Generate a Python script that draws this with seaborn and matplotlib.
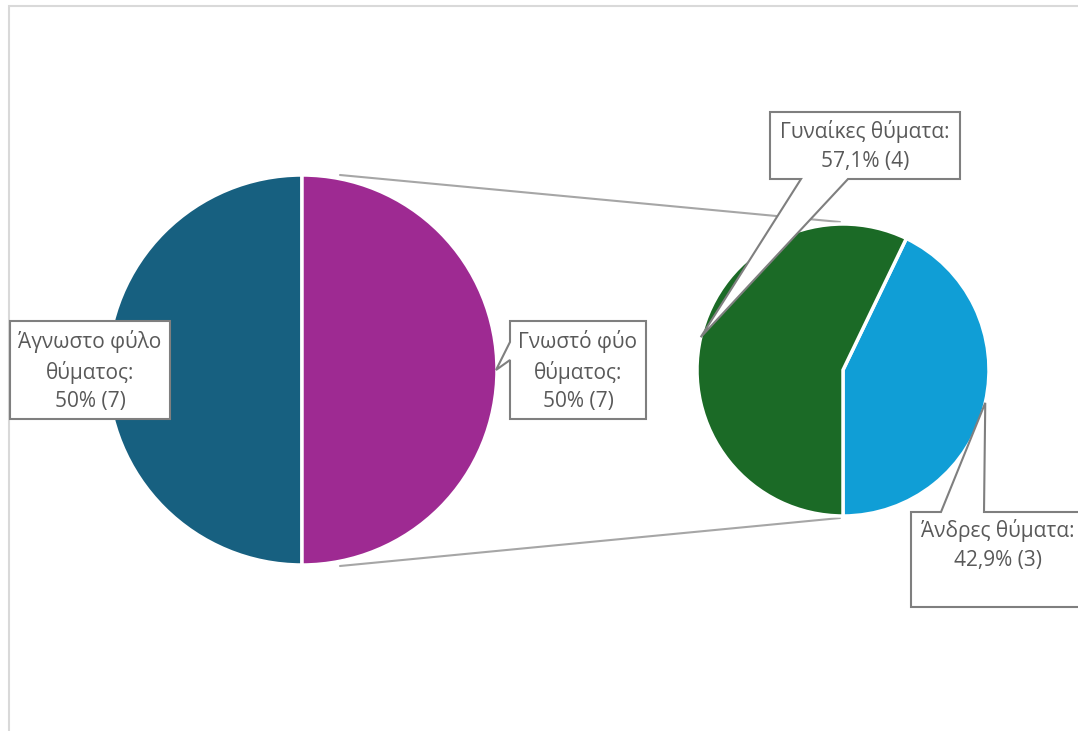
import textwrap
import numpy as np
import matplotlib
matplotlib.use("Agg")
import matplotlib.pyplot as plt
from matplotlib.patches import Polygon, Rectangle
import seaborn as sns

# ---- data ----
main_labels = ["Άγνωστο φύλο θύματος", "Γνωστό φύο θύματος"]
main_counts = [7, 7]
sub_labels = ["Άνδρες θύματα", "Γυναίκες θύματα"]
sub_counts = [3, 4]

main_colors = ["#176080", "#9E2A92"]
sub_colors = ["#109ED6", "#1B6A26"]

sns.set_theme(style="white")
plt.rcParams["font.family"] = ["Open Sans", "DejaVu Sans"]

W, H = 1078, 731
fig = plt.figure(figsize=(W / 100, H / 100), dpi=100)
ax = fig.add_axes([0, 0, 1, 1])


def Y(y):
    return H - y


# pies
c1 = (302, Y(370)); r1 = 195
c2 = (843, Y(370)); r2 = 146
wp = dict(edgecolor="white", linewidth=2.5)
ax.pie(main_counts, colors=main_colors, startangle=90, counterclock=True,
       center=c1, radius=r1, wedgeprops=wp, frame=True)
sub_total = sum(sub_counts)
ax.pie(sub_counts, colors=sub_colors, startangle=-90, counterclock=True,
       center=c2, radius=r2, wedgeprops=wp, frame=True)
ax.set_xlim(0, W)
ax.set_ylim(0, H)
ax.set_aspect("equal")
ax.axis("off")

# chart frame
ax.add_patch(Rectangle((9, Y(740)), 1200, 734, fill=False, ec="#D9D9D9", lw=1.5, zorder=0))

# connector lines
lc = "#A6A6A6"
ax.plot([340, 840], [Y(175), Y(222)], color=lc, lw=1.5, zorder=0.5)
ax.plot([340, 840], [Y(566), Y(518)], color=lc, lw=1.5, zorder=0.5)


def fmt_pct(v):
    s = f"{v:.1f}".replace(".", ",")
    if s.endswith(",0"):
        s = s[:-2]
    return s + "%"


def label_text(name, count, total, width):
    head = textwrap.fill(name + ":", width)
    return f"{head}\n{fmt_pct(100 * count / total)} ({count})"


def on_circle(c, r, ang):
    a = np.deg2rad(ang)
    return (c[0] + r * np.cos(a), c[1] + r * np.sin(a))


box_kw = dict(closed=True, fc="white", ec="#7F7F7F", lw=1.5, joinstyle="miter", zorder=3)
txt_kw = dict(ha="center", va="center", color="#595959", fontsize=15,
              linespacing=1.45, zorder=4)

main_total = sum(main_counts)

# Άγνωστο box (no pointer)
ax.add_patch(Polygon([(10, Y(321)), (170, Y(321)), (170, Y(419)), (10, Y(419))], **box_kw))
ax.text(90, Y(371), label_text(main_labels[0], main_counts[0], main_total, 13), **txt_kw)

# Γνωστό box with pointer to left pie
tip = on_circle(c1, r1 - 1, 0)
ax.add_patch(Polygon([(510, Y(321)), (646, Y(321)), (646, Y(419)), (510, Y(419)),
                      (510, Y(360)), tip, (510, Y(342))], **box_kw))
ax.text(578, Y(371), label_text(main_labels[1], main_counts[1], main_total, 13), **txt_kw)

# Γυναίκες box with pointer to right pie
tip = on_circle(c2, r2, 167)
ax.add_patch(Polygon([(770, Y(112)), (960, Y(112)), (960, Y(179)), (848, Y(179)),
                      tip, (801, Y(179)), (770, Y(179))], **box_kw))
ax.text(865, Y(146), label_text(sub_labels[1], sub_counts[1], sub_total, 30), **txt_kw)

# Άνδρες box with pointer to right pie (clipped at right)
tip = on_circle(c2, r2, -13)
ax.add_patch(Polygon([(911, Y(512)), (941, Y(512)), tip, (984, Y(512)),
                      (1100, Y(512)), (1100, Y(607)), (911, Y(607))], **box_kw))
ax.text(998, Y(545), label_text(sub_labels[0], sub_counts[0], sub_total, 30), **txt_kw)

fig.savefig("out.png", dpi=100, facecolor="white")
